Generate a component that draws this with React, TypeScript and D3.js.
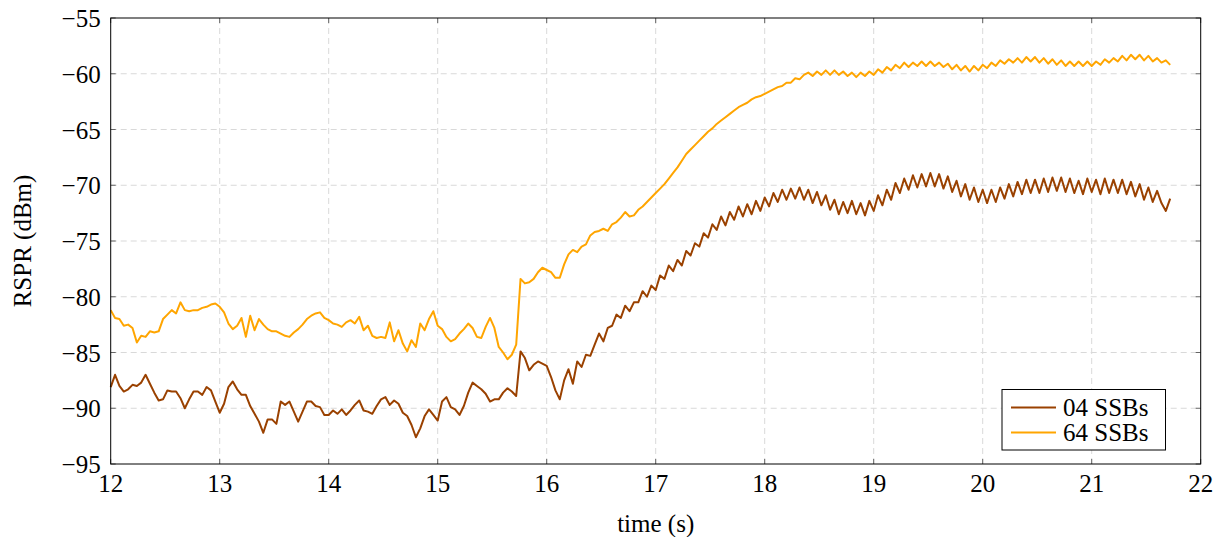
import React from 'react';
import * as d3 from 'd3';

// sampling: first time stamp and step (s)
const T0 = 12;
const DT = 0.04;

// RSPR (dBm), 04 SSBs
const ssb04 = [
  -88.1, -87.0, -88.0, -88.5, -88.3, -87.9, -88.0, -87.7, -87.0, -87.8,
  -88.6, -89.3, -89.2, -88.4, -88.5, -88.5, -89.1, -90.0, -89.2, -88.5,
  -88.5, -88.8, -88.1, -88.4, -89.4, -90.4, -89.6, -88.1, -87.6, -88.3,
  -88.8, -88.8, -89.8, -90.5, -91.2, -92.2, -91.0, -91.0, -91.4, -89.4,
  -89.7, -89.4, -90.3, -91.2, -90.3, -89.4, -89.4, -89.8, -89.9, -90.6,
  -90.6, -90.2, -90.5, -90.1, -90.6, -90.2, -89.7, -89.3, -90.2, -90.3,
  -90.5, -89.8, -89.2, -89.0, -89.7, -89.3, -89.6, -90.4, -90.7, -91.5,
  -92.6, -91.8, -90.7, -90.1, -90.6, -91.1, -89.4, -89.0, -89.9, -90.1,
  -90.6, -89.8, -88.6, -87.7, -88.0, -88.3, -88.7, -89.4, -89.2, -89.2,
  -88.6, -88.2, -88.5, -88.9, -84.9, -85.5, -86.6, -86.1, -85.8, -86.0,
  -86.2, -87.2, -88.4, -89.2, -87.5, -86.5, -87.8, -85.8, -86.3, -85.2,
  -85.3, -84.3, -83.3, -84.0, -82.8, -82.6, -81.6, -81.9, -80.8, -81.3,
  -80.5, -80.5, -79.5, -80.0, -79.0, -79.4, -78.1, -78.4, -77.2, -77.7,
  -76.7, -77.2, -75.9, -76.3, -75.2, -75.5, -74.3, -74.7, -73.5, -74.0,
  -72.8, -73.6, -72.4, -73.1, -71.9, -72.8, -71.7, -72.6, -71.4, -72.3,
  -71.1, -71.9, -70.7, -71.5, -70.4, -71.3, -70.3, -71.2, -70.2, -71.3,
  -70.4, -71.6, -70.6, -71.8, -70.9, -72.2, -71.3, -72.6, -71.5, -72.5,
  -71.4, -72.6, -71.6, -72.7, -71.4, -72.3, -70.9, -71.8, -70.4, -71.3,
  -69.8, -70.7, -69.4, -70.4, -69.1, -70.2, -69.0, -70.1, -68.9, -70.1,
  -69.0, -70.3, -69.2, -70.6, -69.6, -71.0, -69.9, -71.3, -70.2, -71.5,
  -70.4, -71.6, -70.4, -71.5, -70.2, -71.2, -69.9, -71.0, -69.7, -70.8,
  -69.5, -70.7, -69.5, -70.7, -69.4, -70.6, -69.3, -70.5, -69.3, -70.6,
  -69.4, -70.7, -69.6, -70.8, -69.4, -70.6, -69.5, -70.8, -69.4, -70.7,
  -69.5, -70.7, -69.5, -70.8, -69.7, -71.0, -69.9, -71.3, -70.2, -71.5,
  -70.5, -71.6, -72.3, -71.2,
];

// RSPR (dBm), 64 SSBs
const ssb64 = [
  -81.2, -81.9, -82.0, -82.6, -82.5, -82.8, -84.1, -83.5, -83.6, -83.1,
  -83.2, -83.1, -82.0, -81.6, -81.2, -81.5, -80.5, -81.2, -81.3, -81.2,
  -81.2, -81.0, -80.9, -80.7, -80.6, -80.9, -81.4, -82.4, -82.9, -82.6,
  -81.9, -83.6, -81.7, -83.0, -82.0, -82.5, -82.9, -83.1, -83.1, -83.3,
  -83.5, -83.6, -83.2, -82.9, -82.5, -82.0, -81.7, -81.5, -81.4, -81.9,
  -82.1, -82.4, -82.5, -82.7, -82.3, -82.1, -82.4, -81.8, -83.0, -82.6,
  -83.5, -83.7, -83.6, -83.7, -82.3, -84.0, -83.0, -84.2, -84.9, -83.9,
  -84.5, -82.4, -83.0, -82.0, -81.3, -82.6, -82.9, -83.6, -84.0, -83.8,
  -83.3, -82.9, -82.4, -82.8, -83.6, -83.7, -82.7, -81.9, -82.8, -84.5,
  -85.0, -85.6, -85.2, -84.3, -78.4, -78.8, -78.7, -78.4, -77.8, -77.4,
  -77.6, -77.8, -78.3, -78.3, -77.1, -76.2, -75.8, -76.0, -75.5, -75.3,
  -74.5, -74.2, -74.1, -73.9, -74.1, -73.5, -73.3, -72.9, -72.4, -72.8,
  -72.7, -72.2, -71.9, -71.5, -71.1, -70.7, -70.3, -69.9, -69.4, -68.9,
  -68.4, -67.8, -67.2, -66.8, -66.4, -66.0, -65.6, -65.2, -64.9, -64.5,
  -64.2, -63.9, -63.6, -63.3, -63.0, -62.8, -62.6, -62.3, -62.1, -62.0,
  -61.8, -61.6, -61.4, -61.2, -61.1, -60.8, -60.8, -60.4, -60.5, -60.1,
  -59.9, -60.2, -59.8, -60.1, -59.7, -60.1, -59.7, -60.1, -59.8, -60.2,
  -59.9, -60.3, -59.9, -60.2, -59.8, -60.1, -59.6, -59.9, -59.4, -59.7,
  -59.2, -59.5, -59.0, -59.4, -59.0, -59.3, -58.9, -59.3, -58.9, -59.3,
  -59.0, -59.4, -59.1, -59.6, -59.2, -59.7, -59.3, -59.8, -59.3, -59.7,
  -59.2, -59.5, -59.0, -59.3, -58.8, -59.1, -58.7, -59.0, -58.6, -59.0,
  -58.5, -58.9, -58.5, -59.0, -58.6, -59.1, -58.7, -59.2, -58.8, -59.3,
  -58.9, -59.3, -58.9, -59.3, -58.9, -59.3, -58.9, -59.2, -58.7, -59.0,
  -58.6, -58.9, -58.4, -58.8, -58.3, -58.7, -58.3, -58.8, -58.4, -58.9,
  -58.6, -59.0, -58.8, -59.2,
];

const xTicks = [12, 13, 14, 15, 16, 17, 18, 19, 20, 21, 22];
const yTicks = [-95, -90, -85, -80, -75, -70, -65, -60, -55];
const seriesNames = ['04 SSBs', '64 SSBs'];
const seriesColors = ['#9a4100', '#ffa500'];

const FONT = '"Liberation Serif", "DejaVu Serif", serif';

export default function App() {
  const W = 1225;
  const H = 537;
  const left = 110.7, right = 1200.7, top = 18, bottom = 464;

  const x = d3.scaleLinear().domain([12, 22]).range([left, right]);
  const y = d3.scaleLinear().domain([-95, -55]).range([bottom, top]);
  const fmt = d3.format('d');

  const line = d3
    .line<number>()
    .x((_, i) => x(T0 + i * DT))
    .y(d => y(d));

  const series = [ssb04, ssb64];

  return (
    <svg
      width={W}
      height={H}
      style={{position: 'absolute', left: 0, top: 0, background: '#fff'}}
      fontFamily={FONT}
    >
      {/* grid */}
      <g stroke="#d9d9d9" strokeWidth={1} strokeDasharray="6 4">
        {xTicks.slice(1, -1).map(t => (
          <line key={'gx' + t} x1={x(t)} x2={x(t)} y1={top} y2={bottom} />
        ))}
        {yTicks.slice(1, -1).map(t => (
          <line key={'gy' + t} x1={left} x2={right} y1={y(t)} y2={y(t)} />
        ))}
      </g>

      {/* ticks on all sides */}
      <g stroke="#666" strokeWidth={1}>
        {xTicks.map(t => (
          <g key={'tx' + t}>
            <line x1={x(t)} x2={x(t)} y1={bottom} y2={bottom - 5} />
            <line x1={x(t)} x2={x(t)} y1={top} y2={top + 5} />
          </g>
        ))}
        {yTicks.map(t => (
          <g key={'ty' + t}>
            <line x1={left} x2={left + 5} y1={y(t)} y2={y(t)} />
            <line x1={right} x2={right - 5} y1={y(t)} y2={y(t)} />
          </g>
        ))}
      </g>

      {/* data */}
      {series.map((s, k) => (
        <path
          key={seriesNames[k]}
          d={line(s) || ''}
          fill="none"
          stroke={seriesColors[k]}
          strokeWidth={2}
          strokeLinejoin="round"
        />
      ))}

      {/* frame */}
      <rect
        x={left}
        y={top}
        width={right - left}
        height={bottom - top}
        fill="none"
        stroke="#000"
        strokeWidth={1}
      />

      {/* tick labels */}
      <g fontSize={25} fill="#000">
        {xTicks.map(t => (
          <text key={'lx' + t} x={x(t)} y={bottom + 28} textAnchor="middle">
            {fmt(t)}
          </text>
        ))}
        {yTicks.map(t => (
          <text key={'ly' + t} x={left - 10} y={y(t) + 9} textAnchor="end">
            {fmt(t)}
          </text>
        ))}
      </g>

      {/* axis labels */}
      <text x={(left + right) / 2} y={532} fontSize={25} textAnchor="middle">
        time (s)
      </text>
      <text
        transform={`translate(31,${(top + bottom) / 2}) rotate(-90)`}
        fontSize={25}
        textAnchor="middle"
      >
        RSPR (dBm)
      </text>

      {/* legend */}
      <g>
        <rect x={1002} y={389.5} width={163.5} height={60.5} fill="#fff" stroke="#000" strokeWidth={1} />
        {seriesNames.map((n, k) => (
          <g key={'lg' + n}>
            <line
              x1={1011}
              x2={1056}
              y1={407.5 + k * 25}
              y2={407.5 + k * 25}
              stroke={seriesColors[k]}
              strokeWidth={2}
            />
            <text x={1063} y={415.5 + k * 25} fontSize={25}>
              {n}
            </text>
          </g>
        ))}
      </g>
    </svg>
  );
}
